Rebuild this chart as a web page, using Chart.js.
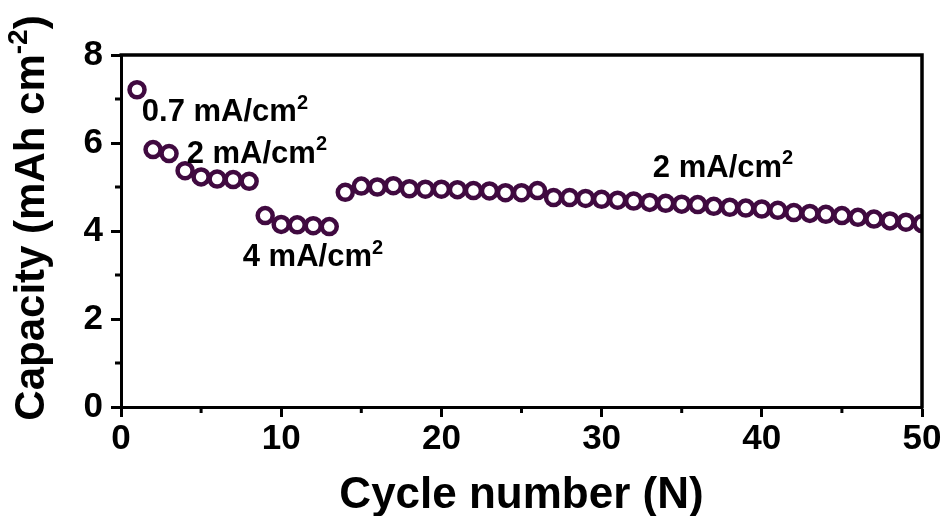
<!DOCTYPE html>
<html>
<head>
<meta charset="utf-8">
<title>Capacity vs cycle number</title>
<script src="https://cdn.jsdelivr.net/npm/chart.js@4.4.1/dist/chart.umd.min.js"></script>
<style>
    html, body { margin: 0; padding: 0; background: #fff; }
    #wrap { width: 949px; height: 516px; position: relative; }
</style>
</head>
<body>
<div id="wrap"><canvas id="capacityChart"></canvas></div>
<script>
// cycle index and areal capacity (mAh cm^-2)
const cycles = [
    1, 2, 3, 4, 5, 6, 7, 8, 9, 10,
    11, 12, 13, 14, 15, 16, 17, 18, 19, 20,
    21, 22, 23, 24, 25, 26, 27, 28, 29, 30,
    31, 32, 33, 34, 35, 36, 37, 38, 39, 40,
    41, 42, 43, 44, 45, 46, 47, 48, 49, 50
];
const capacity = [
    7.21, 5.85, 5.76, 5.37, 5.23, 5.18, 5.17, 5.13, 4.35, 4.15,
    4.14, 4.12, 4.10, 4.88, 5.02, 5.00, 5.03, 4.96, 4.95, 4.95,
    4.94, 4.92, 4.91, 4.87, 4.87, 4.92, 4.76, 4.76, 4.74, 4.72,
    4.70, 4.68, 4.65, 4.63, 4.61, 4.60, 4.56, 4.54, 4.52, 4.50,
    4.47, 4.42, 4.40, 4.38, 4.35, 4.31, 4.27, 4.23, 4.20, 4.17
];

const xTicks = [0, 10, 20, 30, 40, 50];
const xMinor = [5, 15, 25, 35, 45];
const yTicks = [0, 2, 4, 6, 8];
const yMinor = [1, 3, 5, 7];

// current density labels, anchored in data units
const rateLabels = [
    { text: '0.7 mA/cm', sup: '2', x: 1.3, y: 6.5 },
    { text: '2 mA/cm', sup: '2', x: 4.1, y: 5.55 },
    { text: '4 mA/cm', sup: '2', x: 7.6, y: 3.2 },
    { text: '2 mA/cm', sup: '2', x: 33.2, y: 5.23 }
];

const FONT = "'Liberation Sans', Arial, sans-serif";
const MARK = '#400a40';

// draws runs of text where some runs are raised superscripts
function drawRich(ctx, parts, x, y, size, align, supScale) {
    const supSize = Math.round(size * (supScale || 0.62));
    const widths = parts.map(p => {
        ctx.font = `bold ${p.sup ? supSize : size}px ${FONT}`;
        return ctx.measureText(p.t).width;
    });
    const total = widths.reduce((a, b) => a + b, 0);
    let cx = align === 'center' ? x - total / 2 : x;
    ctx.textAlign = 'left';
    ctx.textBaseline = 'alphabetic';
    parts.forEach((p, i) => {
        ctx.font = `bold ${p.sup ? supSize : size}px ${FONT}`;
        ctx.fillText(p.t, cx, p.sup ? y - size * 0.4 : y);
        cx += widths[i];
    });
}

const framePlugin = {
    id: 'framePlugin',
    afterDraw(chart) {
        const { ctx, chartArea: a, scales: { x, y } } = chart;
        ctx.save();
        ctx.strokeStyle = '#000';
        ctx.lineWidth = 3.5;
        ctx.beginPath();
        ctx.moveTo(a.left - 1.5, a.top);
        ctx.lineTo(a.right, a.top);
        ctx.lineTo(a.right, a.bottom + 1.5);
        ctx.stroke();
        ctx.lineWidth = 3;
        ctx.beginPath();
        xMinor.forEach(v => {
            const px = x.getPixelForValue(v);
            ctx.moveTo(px, a.bottom);
            ctx.lineTo(px, a.bottom + 6);
        });
        yMinor.forEach(v => {
            const py = y.getPixelForValue(v);
            ctx.moveTo(a.left, py);
            ctx.lineTo(a.left - 6, py);
        });
        ctx.stroke();

        ctx.fillStyle = '#000';
        rateLabels.forEach(l => {
            drawRich(ctx, [{ t: l.text }, { t: l.sup, sup: true }],
                x.getPixelForValue(l.x), y.getPixelForValue(l.y), 31, 'left', 0.66);
        });

        // axis titles
        drawRich(ctx, [{ t: 'Cycle number (N)' }], (a.left + a.right) / 2, 508, 44, 'center');
        ctx.translate(44, 218);
        ctx.rotate(-Math.PI / 2);
        drawRich(ctx, [{ t: 'Capacity (mAh cm' }, { t: '-2', sup: true }, { t: ')' }], 0, 0, 42, 'center', 0.66);
        ctx.restore();
    }
};

const ctx = document.getElementById('capacityChart').getContext('2d');
new Chart(ctx, {
    type: 'scatter',
    data: {
        datasets: [{
            label: 'Capacity',
            data: cycles.map((c, i) => ({ x: c, y: capacity[i] })),
            pointStyle: 'circle',
            pointRadius: 7.5,
            pointBorderWidth: 4.5,
            pointBorderColor: MARK,
            pointBackgroundColor: '#fff',
            showLine: false
        }]
    },
    options: {
        responsive: true,
        maintainAspectRatio: false,
        animation: false,
        layout: { padding: { top: 55, right: 27, left: 0, bottom: 0 } },
        plugins: {
            legend: { display: false },
            tooltip: { enabled: false }
        },
        scales: {
            x: {
                type: 'linear',
                min: 0,
                max: 50,
                afterFit: s => { s.height = 109; },
                afterBuildTicks: s => { s.ticks = xTicks.map(v => ({ value: v })); },
                ticks: {
                    color: '#000',
                    font: { family: FONT, size: 35, weight: 'bold' },
                    padding: 1,
                    maxRotation: 0
                },
                grid: {
                    drawOnChartArea: false,
                    drawTicks: true,
                    tickLength: 10,
                    tickWidth: 3,
                    tickColor: '#000'
                },
                border: { display: true, color: '#000', width: 3 }
            },
            y: {
                type: 'linear',
                min: 0,
                max: 8,
                afterFit: s => { s.width = 121; },
                afterBuildTicks: s => { s.ticks = yTicks.map(v => ({ value: v })); },
                ticks: {
                    color: '#000',
                    font: { family: FONT, size: 35, weight: 'bold' },
                    padding: 8
                },
                grid: {
                    drawOnChartArea: false,
                    drawTicks: true,
                    tickLength: 10,
                    tickWidth: 3,
                    tickColor: '#000'
                },
                border: { display: true, color: '#000', width: 3 }
            }
        }
    },
    plugins: [framePlugin]
});
</script>
</body>
</html>
